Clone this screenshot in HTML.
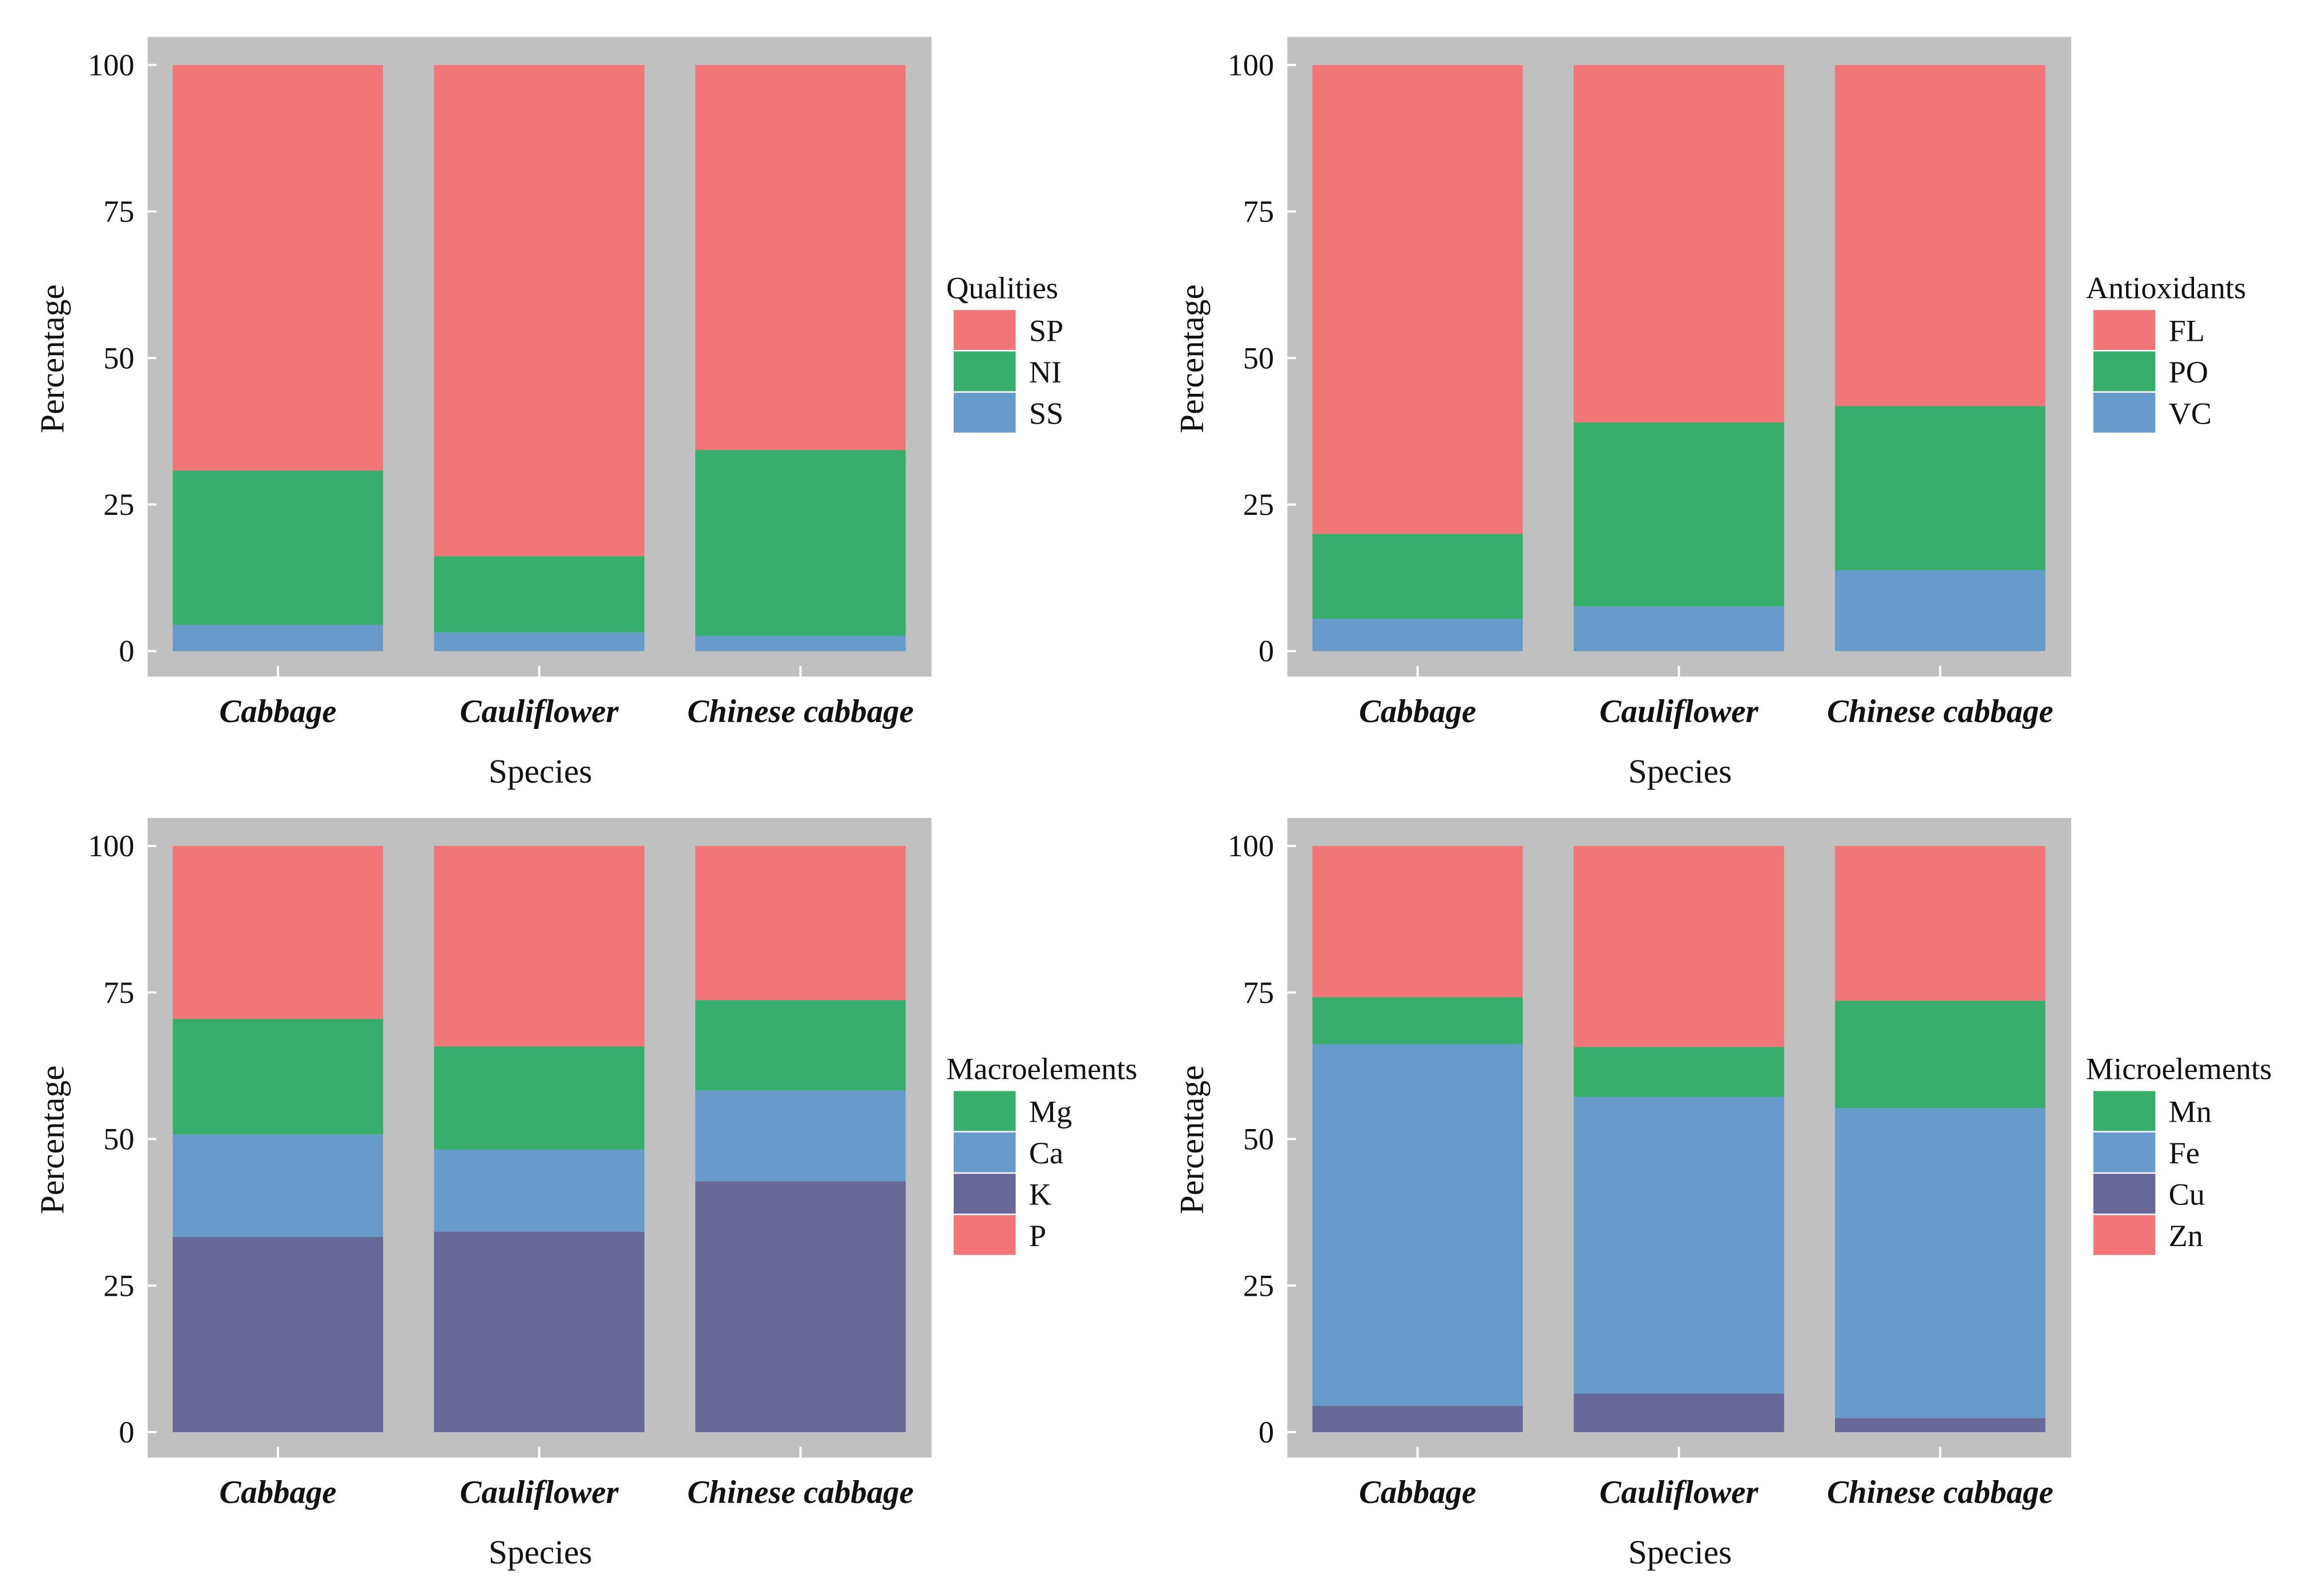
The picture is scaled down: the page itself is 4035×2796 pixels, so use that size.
<!DOCTYPE html>
<html><head><meta charset="utf-8"><style>
html,body{margin:0;padding:0;background:#fff;}
svg{display:block;font-family:"Liberation Serif",serif;}
</style></head><body>
<svg id="fig" width="4035" height="2796" viewBox="0 0 1560 1081" xmlns="http://www.w3.org/2000/svg"></svg>
<script>
const categories = ["Cabbage","Cauliflower","Chinese cabbage"];
const yTicks = [0,25,50,75,100];
// panel 1: Qualities (bottom to top)
const qualSeries = ["SS","NI","SP"];
const qualSS = [4.5,3.2,2.6];
const qualNI = [26.3,13.0,31.7];
const qualSP = [69.2,83.8,65.7];
// panel 2: Antioxidants
const antiSeries = ["VC","PO","FL"];
const antiVC = [5.5,7.6,13.8];
const antiPO = [14.5,31.4,28.0];
const antiFL = [80.0,61.0,58.2];
// panel 3: Macroelements
const macroSeries = ["K","Ca","Mg","P"];
const macroK = [33.3,34.2,42.8];
const macroCa = [17.5,14.0,15.5];
const macroMg = [19.7,17.6,15.4];
const macroP = [29.5,34.2,26.3];
// panel 4: Microelements
const microSeries = ["Cu","Fe","Mn","Zn"];
const microCu = [4.5,6.6,2.4];
const microFe = [61.7,50.6,52.9];
const microMn = [8.0,8.5,18.3];
const microZn = [25.8,34.3,26.4];

const C = {red:"#F17677",green:"#37AE6B",blue:"#669BCB",purple:"#676798"};
const NS="http://www.w3.org/2000/svg";
const svg=document.getElementById('fig');
function el(tag,attrs,parent,text){const e=document.createElementNS(NS,tag);for(const k in attrs)e.setAttribute(k,attrs[k]);if(text!==undefined)e.textContent=text;(parent||svg).appendChild(e);return e;}

function panel(ox,oy,name,title,series,values,colors,legendOrder){
  const g=el('g',{},svg);
  
  
  const bg=el('rect',{x:ox+100,y:oy+25,width:531,height:434,fill:"#C0C0C0"},g);
  
  
  const y=v=>oy+441-(v/100)*397;
  const barL=[117,294,471], bw=142.5;
  const xc=i=>ox+barL[i]+bw/2;
  // bars
  categories.forEach((cat,i)=>{
    let acc=0;
    series.forEach((s,j)=>{
      const v=values[j][i];
      const r=el('rect',{x:ox+barL[i],y:y(acc+v),width:bw,height:y(acc)-y(acc+v),fill:colors[j]},g);
      
      
      acc+=v;
    });
  });
  // y ticks
  yTicks.forEach(t=>{
    el('line',{x1:ox+100,x2:ox+106,y1:y(t),y2:y(t),stroke:"#fff","stroke-width":1.5},g);
    const tx=el('text',{x:ox+91,y:y(t)+7,"text-anchor":"end","font-size":21,fill:"#111"},g,String(t));
    
    
  });
  el('line',{x1:ox+100,x2:ox+631,y1:oy+459,y2:oy+459,stroke:"#fff","stroke-width":1.5},g);
  categories.forEach((cat,i)=>{
    el('line',{x1:xc(i),x2:xc(i),y1:oy+451,y2:oy+459,stroke:"#fff","stroke-width":1.5},g);
    const tx=el('text',{x:xc(i),y:oy+489,"text-anchor":"middle","font-size":22,"font-weight":"bold","font-style":"italic",fill:"#111"},g,cat);
    
    
  });
  const xt=el('text',{x:ox+366,y:oy+530,"text-anchor":"middle","font-size":23,fill:"#111"},g,"Species");
  
  
  const yt=el('text',{x:0,y:0,"text-anchor":"middle","font-size":23,fill:"#111",transform:`translate(${ox+43},${oy+243}) rotate(-90)`},g,"Percentage");
  
  
  // legend
  const lg=el('g',{},g);
  
  
  el('text',{x:ox+641,y:oy+202,"font-size":21,fill:"#111"},lg,title);
  legendOrder.forEach((j,k)=>{
    const ky=oy+210+k*28;
    const e=el('g',{},lg);
    
    
    el('rect',{x:ox+646,y:ky,width:42,height:27,fill:colors[j]},e);
    el('text',{x:ox+697,y:ky+21,"font-size":21,fill:"#111"},e,series[j]);
  });
}
panel(0,0,'qualities','Qualities',qualSeries,[qualSS,qualNI,qualSP],[C.blue,C.green,C.red],[2,1,0]);
panel(772,0,'antioxidants','Antioxidants',antiSeries,[antiVC,antiPO,antiFL],[C.blue,C.green,C.red],[2,1,0]);
panel(0,529,'macroelements','Macroelements',macroSeries,[macroK,macroCa,macroMg,macroP],[C.purple,C.blue,C.green,C.red],[2,1,0,3]);
panel(772,529,'microelements','Microelements',microSeries,[microCu,microFe,microMn,microZn],[C.purple,C.blue,C.green,C.red],[2,1,0,3]);
</script>
</body></html>
